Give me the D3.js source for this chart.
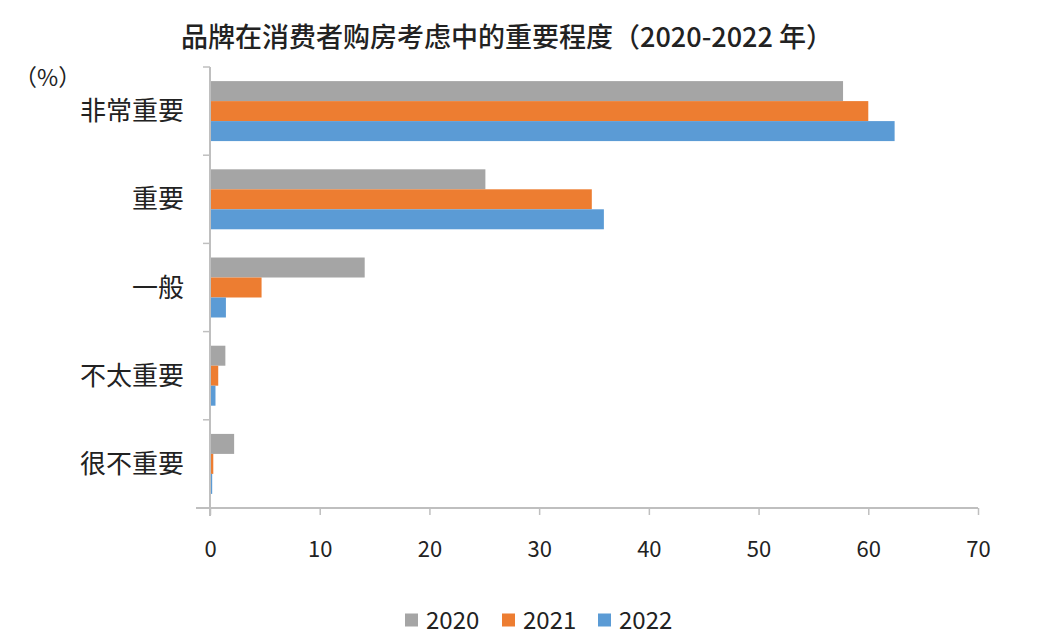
<!DOCTYPE html>
<html><head><meta charset="utf-8">
<script src="https://cdn.jsdelivr.net/npm/d3@7"></script>
<style>
body{margin:0;background:#fff;}
text{font-family:"Noto Sans CJK SC","Noto Sans",sans-serif;fill:#222;}
</style></head>
<body><svg id="c" width="1047" height="640"></svg>
<script>
const categories = ["非常重要","重要","一般","不太重要","很不重要"];
const years = ["2020","2021","2022"];
const v2020 = [57.7, 25.1, 14.1, 1.4, 2.2];
const v2021 = [60.0, 34.8, 4.7, 0.75, 0.3];
const v2022 = [62.4, 35.9, 1.45, 0.5, 0.2];
const xTicks = [0,10,20,30,40,50,60,70];
const colors = ["#a5a5a5","#ed7d31","#5b9bd5"];
const series = [v2020, v2021, v2022];

(function(){
const svg = d3.select("#c");
const mLeft = 210, mRight = 978, mTop = 67, mBottom = 508;
const x = d3.scaleLinear().domain([0,70]).range([mLeft,mRight]);
const y = d3.scaleBand().domain(categories).range([mTop,mBottom]).paddingInner(0.32).paddingOuter(0.16);
const yOuter = d3.scaleBand().domain(categories).range([mTop,mBottom]);
const sub = d3.scaleBand().domain(years).range([0,y.bandwidth()]);

svg.append("text").attr("x",507).attr("y",47).attr("text-anchor","middle")
  .style("font-size","27px").style("font-weight","500").text("品牌在消费者购房考虑中的重要程度（2020-2022 年）");
svg.append("text").attr("x",14).attr("y",86).style("font-size","23px").text("（%）");

categories.forEach((c,i)=>{
  years.forEach((yr,j)=>{
    svg.append("rect").attr("x",x(0)).attr("y",y(c)+sub(yr))
      .attr("width",x(series[j][i])-x(0)).attr("height",sub.bandwidth())
      .attr("fill",colors[j]);
  });
});

const xa = svg.append("g").attr("transform",`translate(0,${mBottom})`)
  .call(d3.axisBottom(x).tickValues(xTicks).tickSize(7).tickPadding(26));
xa.select(".domain").attr("stroke","#bfbfbf").attr("stroke-width",2).attr("d",`M${mLeft-14},0H${mRight}`);
xa.selectAll(".tick line").attr("stroke","#bfbfbf").attr("stroke-width",1.5);
xa.selectAll(".tick text").style("font-size","22px").attr("fill","#222");

const ya = svg.append("g");
ya.append("line").attr("x1",mLeft).attr("x2",mLeft).attr("y1",mTop).attr("y2",mBottom+8).attr("stroke","#bfbfbf").attr("stroke-width",2);
categories.forEach(c=>{
  const b = yOuter(c);
  ya.append("line").attr("x1",mLeft-7).attr("x2",mLeft).attr("y1",b).attr("y2",b).attr("stroke","#bfbfbf").attr("stroke-width",1.5);
  ya.append("text").attr("x",184).attr("y",b+yOuter.bandwidth()/2)
    .attr("dy","0.35em").attr("text-anchor","end").style("font-size","26px").text(c);
});

const lx = [405, 502, 598];
years.forEach((yr,j)=>{
  const g = svg.append("g").attr("transform",`translate(${lx[j]},620)`);
  g.append("rect").attr("x",0).attr("y",-6.5).attr("width",13).attr("height",13).attr("fill",colors[j]);
  g.append("text").attr("x",21).attr("y",0).attr("dy","0.36em").style("font-size","24px").text(yr);
});
})();
</script></body></html>
